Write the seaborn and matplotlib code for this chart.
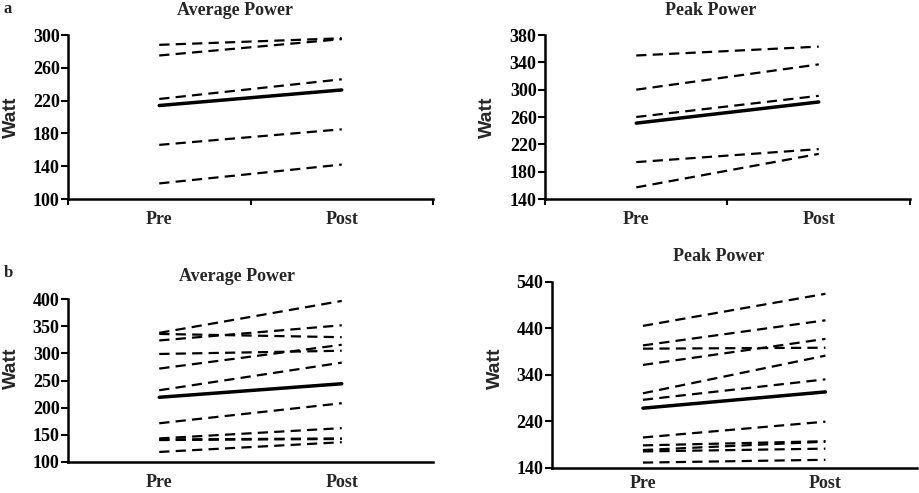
import numpy as np
import pandas as pd
import matplotlib
matplotlib.use("Agg")
import matplotlib.pyplot as plt
import seaborn as sns

times = ["Pre", "Post"]

# Panel a - Average Power (individuals) and mean
a_avg_pre = [288, 275, 222, 166, 119]
a_avg_post = [296, 295, 246, 185, 142]
a_avg_mean = [214, 233]

# Panel a - Peak Power
a_peak_pre = [350, 300, 260, 194, 157]
a_peak_post = [363, 337, 291, 213, 206]
a_peak_mean = [251, 282]

# Panel b - Average Power
b_avg_pre = [338, 336, 324, 299, 272, 232, 171, 143, 141, 140, 118]
b_avg_post = [397, 330, 352, 305, 316, 283, 208, 162, 143, 142, 136]
b_avg_mean = [219, 244]

# Panel b - Peak Power
b_peak_pre = [445, 403, 396, 361, 300, 286, 205, 188, 178, 175, 151]
b_peak_post = [514, 457, 398, 417, 381, 330, 239, 197, 196, 181, 157]
b_peak_mean = [268, 303]

avg_ticks_a = [100, 140, 180, 220, 260, 300]
peak_ticks_a = [140, 180, 220, 260, 300, 340, 380]
avg_ticks_b = [100, 150, 200, 250, 300, 350, 400]
peak_ticks_b = [140, 240, 340, 440, 540]

sns.set_style("ticks")
plt.rcParams["font.family"] = ["Liberation Serif", "DejaVu Serif"]

fig = plt.figure(figsize=(9.2, 4.93), dpi=100)

W = 365 / 920
axes_specs = [
    # left, bottom, width, height
    (68 / 920, (493 - 199) / 493, W, 164 / 493),
    (545 / 920, (493 - 199) / 493, W, 164 / 493),
    (68 / 920, (493 - 461.7) / 493, W, 162.4 / 493),
    (551.7 / 920, (493 - 467.7) / 493, W, 186 / 493),
]

TICK_FS = 13

panels = [
    (a_avg_pre, a_avg_post, a_avg_mean, avg_ticks_a, True, 5),
    (a_peak_pre, a_peak_post, a_peak_mean, peak_ticks_a, True, 5),
    (b_avg_pre, b_avg_post, b_avg_mean, avg_ticks_b, False, 9),
    (b_peak_pre, b_peak_post, b_peak_mean, peak_ticks_b, False, 5.5),
]

for spec, (pre, post, mean, yt, xticks_on, xpad) in zip(axes_specs, panels):
    ax = fig.add_axes(spec)
    n = len(pre)
    df = pd.DataFrame({
        "subject": list(range(n)) * 2,
        "time": ["Pre"] * n + ["Post"] * n,
        "value": list(pre) + list(post),
    })
    dm = pd.DataFrame({"time": times, "value": mean})
    sns.lineplot(data=df, x="time", y="value", units="subject", estimator=None,
                 color="black", lw=1.6, linestyle=(0, (4.6, 2.8)), ax=ax,
                 sort=False)
    sns.lineplot(data=dm, x="time", y="value", color="black", lw=2.5, ax=ax,
                 sort=False)
    ax.set_xlim(-0.5, 1.5)
    ax.set_ylim(yt[0], yt[-1])
    ax.set_yticks(yt)
    ax.set_yticklabels([str(t) for t in yt], fontweight="bold", fontsize=TICK_FS)
    ax.set_xlabel("")
    ax.set_ylabel("")
    for s in ["top", "right"]:
        ax.spines[s].set_visible(False)
    for s in ["left", "bottom"]:
        ax.spines[s].set_linewidth(1.8)
        ax.spines[s].set_color("black")
    ax.tick_params(axis="y", length=5, width=1.5, pad=1, colors="black")
    if xticks_on:
        ax.set_xticks([-0.5, 0.5, 1.5], minor=False)
        ax.set_xticklabels(["", "", ""])
        ax.set_xticks([0, 1], minor=True)
        ax.set_xticklabels(times, minor=True, fontweight="bold", fontsize=TICK_FS)
        ax.tick_params(axis="x", which="major", length=4, width=1.5, colors="black")
        ax.tick_params(axis="x", which="minor", length=0, pad=xpad + 4)
    else:
        ax.set_xticks([0, 1])
        ax.set_xticklabels(times, fontweight="bold", fontsize=TICK_FS)
        ax.tick_params(axis="x", length=0, pad=xpad)

def ftext(x, y, s, **kw):
    fig.text(x / 920, 1 - y / 493, s, ha="center", va="center", **kw)

ftext(234.7, 10.5, "Average Power", fontsize=13, fontweight="bold")
ftext(711, 10.5, "Peak Power", fontsize=13, fontweight="bold")
ftext(237.5, 276.7, "Average Power", fontsize=13, fontweight="bold")
ftext(718.7, 256.7, "Peak Power", fontsize=13, fontweight="bold")

ftext(8, 9, "a", fontsize=12, fontweight="bold")
ftext(8, 273, "b", fontsize=12, fontweight="bold")

for (x, y) in [(11, 117), (487, 117), (11, 368), (495, 368)]:
    ftext(x, y, "Watt", fontsize=14, fontweight="bold", rotation=90,
          family=["Liberation Sans", "DejaVu Sans"])

fig.savefig("out.png", dpi=100)
